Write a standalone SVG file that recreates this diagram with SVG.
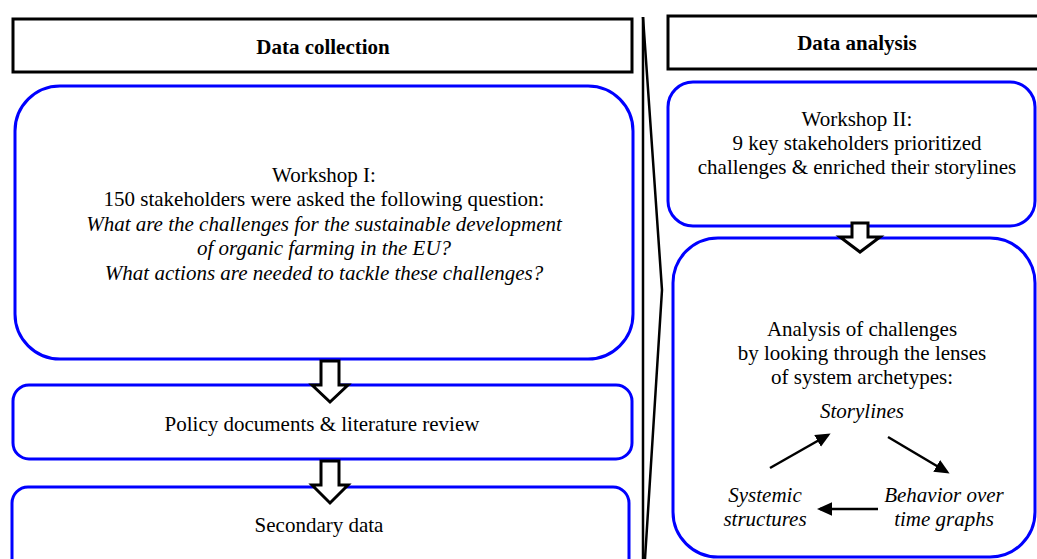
<svg xmlns="http://www.w3.org/2000/svg" width="1037" height="559" viewBox="0 0 1037 559">
<defs>
<style>
.hdr{fill:#fff;stroke:#000;stroke-width:3}
.blue{fill:#fff;stroke:#0000ff;stroke-width:3}
.t{font-family:"Liberation Serif","Times New Roman",serif;font-size:21px;fill:#000;text-anchor:middle}
.b{font-weight:bold;font-size:21px}
.i{font-style:italic}
.blk{fill:#fff;stroke:#000;stroke-width:3;stroke-linejoin:miter}
.ln{stroke:#000;stroke-width:2.5;fill:none}
</style>
<marker id="ah" viewBox="0 0 10 10" refX="8" refY="5" markerWidth="6" markerHeight="6" orient="auto" markerUnits="strokeWidth">
<path d="M0,0.5 L10,5 L0,9.5 Z" fill="#000"/>
</marker>
</defs>
<rect width="1037" height="559" fill="#fff"/>

<g id="divider">
<path d="M643,17 L643,559" class="ln" stroke-width="2"/>
<path d="M643,17 L662,290 L645,559" class="ln" stroke-width="2"/>
</g>

<g id="data-collection">
<rect x="13" y="19" width="619" height="53" class="hdr"/>
<text x="323" y="54" class="t b">Data collection</text>
</g>

<g id="workshop1">
<rect x="15" y="86" width="618" height="273" rx="45" ry="45" class="blue"/>
<text class="t" x="324" y="182">Workshop I:</text>
<text class="t" x="324" y="206">150 stakeholders were asked the following question:</text>
<text class="t i" x="324" y="231">What are the challenges for the sustainable development</text>
<text class="t i" x="324" y="255">of organic farming in the EU?</text>
<text class="t i" x="324" y="280">What actions are needed to tackle these challenges?</text>
</g>

<g id="policy">
<rect x="13" y="385" width="619" height="74" rx="16" ry="16" class="blue"/>
<text class="t" x="322" y="431">Policy documents &amp; literature review</text>
</g>

<g id="secondary">
<rect x="12" y="487" width="617" height="90" rx="16" ry="16" class="blue"/>
<text class="t" x="319" y="532">Secondary data</text>
</g>

<g id="data-analysis">
<rect x="668" y="16" width="380" height="53" class="hdr"/>
<text x="857" y="50" class="t b">Data analysis</text>
</g>

<g id="workshop2">
<rect x="668" y="82" width="367" height="144" rx="25" ry="25" class="blue"/>
<text class="t" x="857" y="126">Workshop II:</text>
<text class="t" x="857" y="150">9 key stakeholders prioritized</text>
<text class="t" x="857" y="174">challenges &amp; enriched their storylines</text>
</g>

<g id="analysis">
<rect x="673" y="238" width="362" height="319" rx="45" ry="45" class="blue"/>
<text class="t" x="862" y="336">Analysis of challenges</text>
<text class="t" x="862" y="360">by looking through the lenses</text>
<text class="t" x="862" y="384">of system archetypes:</text>
<text class="t i" x="862" y="418">Storylines</text>
<text class="t i" x="765" y="502">Systemic</text>
<text class="t i" x="765" y="526">structures</text>
<text class="t i" x="944" y="502">Behavior over</text>
<text class="t i" x="944" y="526">time graphs</text>
</g>

<g id="connectors">
<path class="blk" d="M321,361 L339,361 L339,385 L348,385 L330,402 L312,385 L321,385 Z"/>
<path class="blk" d="M321,461 L339,461 L339,485 L348,485 L330,503 L312,485 L321,485 Z"/>
<path class="blk" d="M852,223 L868,223 L868,237 L880,237 L860,252 L840,237 L852,237 Z"/>
<line class="ln" x1="770" y1="468" x2="828" y2="435" marker-end="url(#ah)"/>
<line class="ln" x1="888" y1="437" x2="947" y2="472" marker-end="url(#ah)"/>
<line class="ln" x1="878" y1="509" x2="820" y2="509" marker-end="url(#ah)"/>
</g>
</svg>
